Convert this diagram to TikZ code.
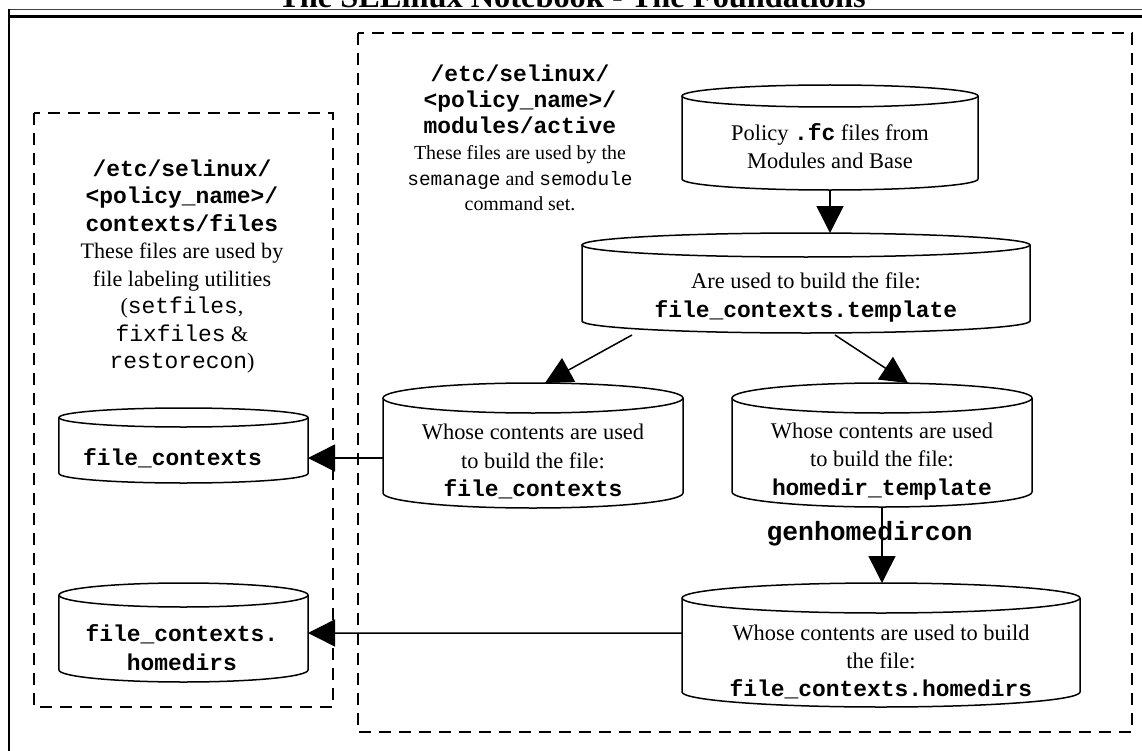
\documentclass[tikz,border=0pt]{standalone}
\usepackage{fontspec}
\setmainfont{Liberation Serif}
\newfontfamily\monofam{Liberation Mono}
\usetikzlibrary{arrows.meta,calc}

% file and directory names (bold mono) and command names (plain mono)
\newcommand{\fname}[1]{{\monofam\bfseries\fontsize{23}{27.6}\selectfont #1}}
\newcommand{\cmdname}[2][23]{{\monofam\fontsize{#1}{27.6}\selectfont #2}}

% outline of a vertical cylinder around a named box: node, half width, ellipse y radius
\newcommand{\drawcyl}[3]{%
  \draw[cylline] ($(#1.north west)+(0bp,-#3bp)$) -- ($(#1.south west)+(0bp,#3bp)$)
    arc[start angle=180,end angle=360,x radius=#2bp,y radius=#3bp]
    -- ($(#1.north east)+(0bp,-#3bp)$);
  \draw[cylline] ($(#1.north)+(0bp,-#3bp)$) ellipse[x radius=#2bp,y radius=#3bp];
}

\tikzset{
  frame/.style={line width=2bp, dash pattern=on 12bp off 8bp},
  cylbox/.style={rectangle, inner sep=0pt, outer sep=0pt, draw=none},
  cylline/.style={line width=1.5bp},
  body/.style={align=center, inner sep=0pt, font=\fontsize{22.5}{28.5}\selectfont},
  conn/.style={line width=1.5bp, -{Triangle[length=27bp,width=27bp]}},
}

\begin{document}
\begin{tikzpicture}[x=1bp, y=-1bp]
\useasboundingbox (0,0) rectangle (1142,751);

% page header and frame
\node[font=\bfseries\fontsize{32.5}{32.5}\selectfont, anchor=base, inner sep=0pt]
  (title) at (572,8) {The SELinux Notebook - The Foundations};
\draw[line width=1bp, black!75] (8,9.5) -- (1142,9.5);
\draw[line width=2.2bp] (8,16.5) -- (1142,16.5);
\draw[line width=2bp] (8.5,9) -- (8.5,751);

% dashed groups
\draw[frame] (34,113) rectangle (333,707);
\draw[frame] (358,33) rectangle (1132,732);

% group captions
\node[align=center, inner sep=0pt, font=\fontsize{22.2}{27.6}\selectfont] (lefttext) at (182,266.5)
  {\fname{/etc/selinux/}\\ \fname{<policy\_name>/}\\ \fname{contexts/files}\\
   These files are used by\\ file labeling utilities\\ (\cmdname{setfiles},\\
   \cmdname{fixfiles} \&\\ \cmdname{restorecon})};
\node[align=center, inner sep=0pt, font=\fontsize{20}{26}\selectfont] (righttext) at (520,138)
  {\fname{/etc/selinux/}\\ \fname{<policy\_name>/}\\ \fname{modules/active}\\
   These files are used by the\\ \cmdname[19.5]{semanage} and \cmdname[19.5]{semodule}\\ command set.};

% cylinders
\node[cylbox, minimum width=296bp, minimum height=105bp] (pol) at (830,137.5) {};
\node[cylbox, minimum width=448bp, minimum height=100bp] (tmpl) at (806,283) {};
\node[cylbox, minimum width=300bp, minimum height=125bp] (fcmid) at (533,445.5) {};
\node[cylbox, minimum width=300bp, minimum height=124bp] (hdt) at (882,445) {};
\node[cylbox, minimum width=398bp, minimum height=124bp] (fch) at (881,645) {};
\node[cylbox, minimum width=249bp, minimum height=75bp] (lfc) at (183.5,445.5) {};
\node[cylbox, minimum width=249bp, minimum height=99bp] (lfch) at (183.5,632.5) {};
\drawcyl{pol}{148}{11}
\drawcyl{tmpl}{224}{12}
\drawcyl{fcmid}{150}{15}
\drawcyl{hdt}{150}{15}
\drawcyl{fch}{199}{15}
\drawcyl{lfc}{124.5}{9.5}
\drawcyl{lfch}{124.5}{12}

% cylinder contents
\node[body] (polT) at (830,146) {Policy \fname{.fc} files from\\ Modules and Base};
\node[body] (tmplT) at (806,297.5) {Are used to build the file:\\ \fname{file\_contexts.template}};
\node[body] (fcmidT) at (533,461.5) {Whose contents are used\\ to build the file:\\ \fname{file\_contexts}};
\node[body] (hdtT) at (882,461.5) {Whose contents are used\\ to build the file:\\ \fname{homedir\_template}};
\node[body] (fchT) at (881,662) {Whose contents are used to build\\ the file:\\ \fname{file\_contexts.homedirs}};
\node[body] (lfcT) at (172.5,458) {\fname{file\_contexts}};
\node[body] (lfchT) at (182,647.5) {\fname{file\_contexts.}\\ \fname{homedirs}};

% command label on the last build step
\node[inner sep=0pt, font=\monofam\bfseries\fontsize{26.5}{30}\selectfont] (gen) at (869.5,534) {genhomedircon};

% connectors
\draw[conn] (pol.south) -- (pol.south |- tmpl.north);
\draw[conn] ($(tmpl.south)+(-174,2)$) -- ($(fcmid.north)+(12,0)$);
\draw[conn] ($(tmpl.south)+(29,2)$) -- ($(hdt.north)+(26,0)$);
\draw[conn] (hdt.south) -- (hdt.south |- fch.north);
\draw[conn] ($(fcmid.west)+(0,12.5)$) -- ($(lfc.east)+(0,12.5)$);
\draw[conn] ($(fch.west)+(0,-12)$) -- ($(lfch.east)+(0,0.5)$);
\end{tikzpicture}
\end{document}
